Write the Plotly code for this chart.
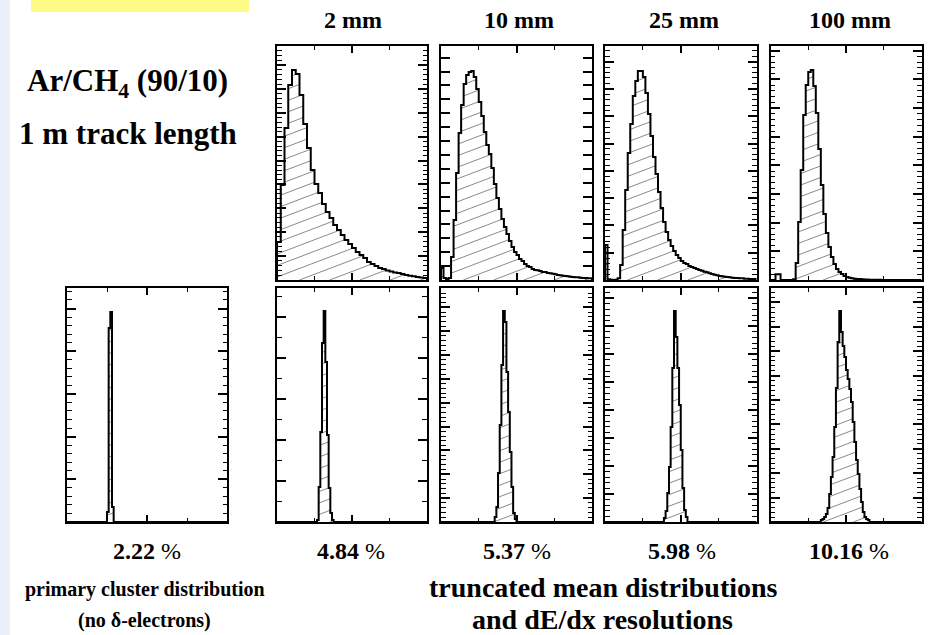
import plotly.graph_objects as go

FIG_W, FIG_H = 929, 635

# ---------------- data (arbitrary count units) ----------------
col_titles = ["2 mm", "10 mm", "25 mm", "100 mm"]
resolution_values = ["2.22", "4.84", "5.37", "5.98", "10.16"]

top_2mm = [38, 95, 152, 195, 210, 206, 185, 156, 132, 110, 96, 87, 76, 68, 62, 55, 50, 45, 40, 36,
           32, 28, 25, 22, 18, 16, 14, 12, 11, 9.5, 8.5, 7.5, 7, 6, 5, 4.3, 3.7, 3, 2.5, 2]
top_10mm = [12, 2, 1, 2, 23, 60, 107, 147, 175, 196, 205, 208, 209, 203, 191, 178, 164, 148, 135, 126,
            112, 96, 82, 71, 61, 53, 46, 39, 33, 28, 25, 21, 19, 16, 14, 13, 11, 10, 9.7, 9,
            8, 8, 7, 6.7, 6.3, 5.7, 5, 4.7, 4.3, 4, 3.7, 3.3, 3, 2.7, 2.7, 2.3, 2, 2, 1.7, 1.7]
top_25mm = [35, 0.7, 0.3, 0, 0.3, 1.7, 15, 50, 90, 127, 156, 184, 199, 209, 209, 203, 187, 166, 144, 123,
            106, 88, 72, 58, 48, 40, 34, 29, 25, 22, 19, 17, 16, 14, 13, 12, 11, 10, 9.3, 8.3,
            7.7, 6.7, 6, 5.3, 4.7, 4, 3.7, 3.3, 3, 2.7, 2.3, 2, 2, 1.7, 1.7, 1.3, 1.3, 1, 1, 1]
top_100mm = [0, 0, 5.7, 5.7, 0, 0, 0, 0, 0, 0.7, 17, 58, 110, 165, 195, 208, 210, 194, 167, 131,
             95, 66, 47, 33, 23, 16, 11, 8, 6, 4, 3, 2.3, 1.7, 1.3, 1, 1, 0.7, 0.5, 0.4, 0.3,
             0.3, 0.2, 0.2, 0.2, 0.1, 0.1, 0.1, 0.1, 0, 0, 0, 0, 0, 0, 0, 0, 0, 0, 0, 0]

primary = [0] * 24 + [10, 194, 210, 15] + [0] * 68
bot_2mm = [0] * 24 + [2, 35, 90, 179, 211, 160, 87, 34, 9, 2] + [0] * 56
bot_10mm = [0] * 32 + [5, 15, 49, 97, 157, 211, 200, 150, 110, 70, 35, 9, 3] + [0] * 45
bot_25mm = [0] * 35 + [4, 11, 29, 55, 95, 154, 211, 185, 154, 117, 72, 34, 12, 5] + [0] * 41
bot_100mm = [0] * 30 + [2, 3, 5, 8, 14, 28, 45, 65, 95, 134, 180, 211, 190, 176, 165, 152, 143, 133,
                        120, 100, 80, 62, 48, 33, 20, 10, 5, 3, 2] + [0] * 31

Y_MAX = 234

# ---------------- panel geometry / style (pixels) ----------------
panels = [
    dict(v=top_2mm,   x0=277, x1=427,   y0=46,  y1=280, dt=23.9,  nd=5),
    dict(v=top_10mm,  x0=441, x1=592,   y0=46,  y1=280, dt=13.9,  nd=1),
    dict(v=top_25mm,  x0=605, x1=756.5, y0=46,  y1=280, dt=27.3,  nd=5),
    dict(v=top_100mm, x0=770.5, x1=921.5, y0=46, y1=280, dt=28.65, nd=5),
    dict(v=primary,   x0=67,  x1=227,   y0=288, y1=522, dt=42.7,  nd=5),
    dict(v=bot_2mm,   x0=277, x1=427,   y0=288, y1=522, dt=41.0,  nd=2),
    dict(v=bot_10mm,  x0=441, x1=592,   y0=288, y1=522, dt=23.85, nd=5),
    dict(v=bot_25mm,  x0=605, x1=756.5, y0=288, y1=522, dt=27.95, nd=5),
    dict(v=bot_100mm, x0=770.5, x1=921.5, y0=288, y1=522, dt=24.4, nd=5),
]


def hatch_segments(values, wpx, hpx, yr, slope=0.38, gap=11.5):
    n = len(values)
    m = slope * (wpx / n) * (yr / hpx)
    gap_d = gap * yr / hpx
    xs, ys = [], []
    top = max(values)
    k0 = int(m * n / gap_d) + 1
    c = -k0 * gap_d + 3.0
    while c < top:
        segs = []
        for i, h in enumerate(values):
            if h <= 0:
                continue
            lo = max(i, (0 - c) / m)
            hi = min(i + 1, (h - c) / m)
            if lo < hi:
                if segs and abs(segs[-1][1] - lo) < 1e-9:
                    segs[-1][1] = hi
                else:
                    segs.append([lo, hi])
        for lo, hi in segs:
            xs += [lo, hi, None]
            ys += [m * lo + c, m * hi + c, None]
        c += gap_d
    return xs, ys


fig = go.Figure()
layout = dict(
    width=FIG_W, height=FIG_H, margin=dict(l=0, r=0, t=0, b=0),
    paper_bgcolor="white", plot_bgcolor="white", showlegend=False,
)

for i, p in enumerate(panels):
    idx = "" if i == 0 else str(i + 1)
    vals = p["v"]
    n = len(vals)
    wpx = p["x1"] - p["x0"]
    hpx = p["y1"] - p["y0"]
    hx, hy = hatch_segments(vals, wpx, hpx, Y_MAX)
    fig.add_trace(go.Scatter(x=hx, y=hy, mode="lines", xaxis="x" + idx, yaxis="y" + idx,
                             line=dict(color="#8a8a8a", width=1), hoverinfo="skip"))
    sx = [0] + list(range(n + 1))
    sy = [0] + list(vals) + [0]
    fig.add_trace(go.Scatter(x=sx, y=sy, mode="lines", line_shape="hv", xaxis="x" + idx,
                             yaxis="y" + idx, line=dict(color="black", width=2), hoverinfo="skip"))
    common = dict(showline=True, linecolor="black", linewidth=2, mirror="ticks", ticks="inside",
                  tickcolor="black", showticklabels=False, showgrid=False, zeroline=False,
                  fixedrange=True)
    layout["xaxis" + idx] = dict(
        common, domain=[p["x0"] / FIG_W, p["x1"] / FIG_W], range=[0, n], tick0=0, dtick=n / 2,
        ticklen=7, tickwidth=1.5, anchor="y" + idx,
        minor=dict(ticks="inside", tick0=0, dtick=n / 4, ticklen=4, tickwidth=1.3,
                   tickcolor="black", showgrid=False))
    ya = dict(
        common, domain=[1 - p["y1"] / FIG_H, 1 - p["y0"] / FIG_H], range=[0, Y_MAX], tick0=0,
        dtick=p["dt"], ticklen=9, tickwidth=1.5, anchor="x" + idx)
    if p["nd"] > 1:
        ya["minor"] = dict(ticks="inside", tick0=0, dtick=p["dt"] / p["nd"],
                           ticklen=5 if p["nd"] == 2 else 4.5, tickwidth=1.3,
                           tickcolor="black", showgrid=False)
    layout["yaxis" + idx] = ya

FONT = "Liberation Serif"


def ann(text, cx, cy, size):
    return dict(text=text, x=cx / FIG_W, y=1 - cy / FIG_H, xref="paper", yref="paper",
                xanchor="center", yanchor="middle", showarrow=False,
                font=dict(family=FONT, size=size, color="black"))


annotations = []
for t, cx in zip(col_titles, [353, 518.5, 684, 849.5]):
    annotations.append(ann("<b>%s</b>" % t, cx, 19.5, 24))
for t, cx in zip(resolution_values, [147, 351, 517, 682, 849]):
    annotations.append(ann("<b>%s</b> %%" % t, cx, 551, 24))
annotations.append(ann("<b>Ar/CH<sub>4</sub> (90/10)</b>", 127.5, 83, 31))
annotations.append(ann("<b>1 m track length</b>", 128, 133, 31))
annotations.append(ann("<b>primary cluster distribution</b>", 145, 589.5, 20))
annotations.append(ann("<b>(no δ-electrons)</b>", 144, 620, 20))
annotations.append(ann("<b>truncated mean distributions</b>", 603, 587, 28))
annotations.append(ann("<b>and dE/dx resolutions</b>", 602, 619, 28))
layout["annotations"] = annotations

layout["shapes"] = [
    dict(type="rect", xref="paper", yref="paper", x0=0, x1=10 / FIG_W, y0=0, y1=1,
         fillcolor="#eceef9", line=dict(width=0), layer="below"),
    dict(type="rect", xref="paper", yref="paper", x0=31 / FIG_W, x1=249 / FIG_W,
         y0=1 - 12 / FIG_H, y1=1, fillcolor="#fdfb85", line=dict(width=0), layer="below"),
]

fig.update_layout(**layout)
fig.write_html("out.html")
